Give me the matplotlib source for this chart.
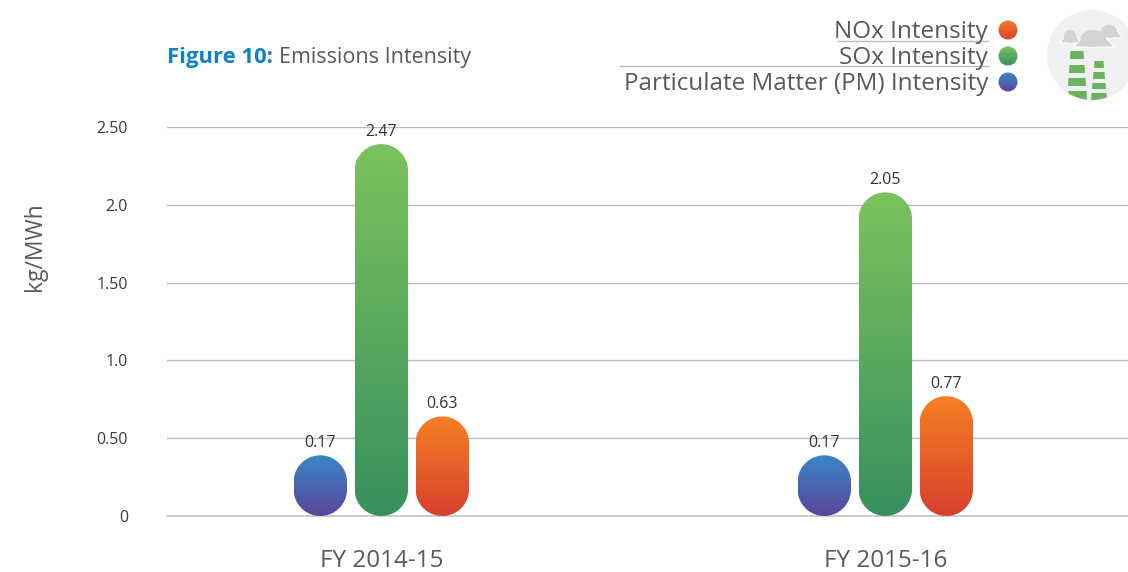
import numpy as np
import matplotlib
matplotlib.use('Agg')
import matplotlib.pyplot as plt
from matplotlib.colors import LinearSegmentedColormap
from matplotlib.patches import PathPatch, Circle, Polygon, Ellipse
from matplotlib.path import Path

# -------------------- Data --------------------
categories = ['FY 2014-15', 'FY 2015-16']
series_names = ['Particulate Matter (PM) Intensity', 'SOx Intensity', 'NOx Intensity']
# printed labels, and the heights the bars are really drawn at in the picture
labels_pm = ['0.17', '0.17']
labels_sox = ['2.47', '2.05']
labels_nox = ['0.63', '0.77']
heights_pm = [0.39, 0.39]
heights_sox = [2.39, 2.08]
heights_nox = [0.64, 0.77]
y_ticks = [0, 0.5, 1.0, 1.5, 2.0, 2.5]
y_tick_labels = ['0', '0.50', '1.0', '1.50', '2.0', '2.50']

grad_pm = ('#3A86C8', '#5B469A')
grad_sox = ('#7DC25D', '#37905F')
grad_nox = ('#F58024', '#D8402F')

# ---------------- Layout (pixels) ----------------
W, H = 1128, 572
left, right, top, bottom = 167, 1128, 127, 516
x_unit = 504.0
y_unit = (bottom - top) / 2.5
bar_w = 53.5 / x_unit
offset = 61 / x_unit

plt.rcParams['font.family'] = ['Open Sans', 'DejaVu Sans']
text_grey = '#58595B'

fig = plt.figure(figsize=(W / 100, H / 100), dpi=100, facecolor='white')

# overlay in pixel coordinates for title, legend and icon
over = fig.add_axes([0, 0, 1, 1])
over.set_xlim(0, W)
over.set_ylim(H, 0)
over.axis('off')

ax = fig.add_axes([left / W, 1 - bottom / H, (right - left) / W, (bottom - top) / H])
ax.patch.set_alpha(0)

for s in ['top', 'right', 'left']:
    ax.spines[s].set_visible(False)
ax.spines['bottom'].set_color('#CCCCCC')
ax.spines['bottom'].set_linewidth(1.4)
ax.set_yticks(y_ticks)
ax.set_yticklabels(y_tick_labels, fontsize=11.5, color='#3A3A3A')
ax.set_xticks(range(len(categories)))
ax.set_xticklabels(categories, fontsize=17.5, color=text_grey)
ax.tick_params(axis='y', length=0, pad=28)
ax.tick_params(axis='x', length=0, pad=24)
ax.yaxis.grid(True, color='#BBBBBB', linewidth=1)
ax.set_axisbelow(True)

over.text(35, 247, 'kg/MWh', rotation=90, fontsize=16.5, color=text_grey,
          ha='center', va='center')


def pill_path(x, h):
    # rounded both ends, radius in pixels turned back into data units
    rx = bar_w / 2
    ry = rx * x_unit / y_unit
    t = np.linspace(0, np.pi, 40)
    top_x = x + rx * np.cos(t)
    top_y = h - ry + ry * np.sin(t)
    bot_x = x - rx * np.cos(t)
    bot_y = ry - ry * np.sin(t)
    pts = np.column_stack([np.r_[top_x, bot_x], np.r_[top_y, bot_y]])
    return Path(np.vstack([pts, pts[0]]), closed=True)


def draw_pill(x, h, colors):
    patch = PathPatch(pill_path(x, h), fc='none', ec='none', zorder=3)
    ax.add_patch(patch)
    cmap = LinearSegmentedColormap.from_list('grad', colors)
    im = ax.imshow(np.linspace(0, 1, 256).reshape(-1, 1), cmap=cmap, aspect='auto',
                   extent=(x - bar_w / 2, x + bar_w / 2, 0, h), origin='upper', zorder=3)
    im.set_clip_path(patch)


groups = [(-offset, heights_pm, labels_pm, grad_pm),
          (0, heights_sox, labels_sox, grad_sox),
          (offset, heights_nox, labels_nox, grad_nox)]
for off, heights, labs, grad in groups:
    for i, (h, lab) in enumerate(zip(heights, labs)):
        draw_pill(i + off, h, grad)
        ax.annotate(lab, (i + off, h), xytext=(0, 3), textcoords='offset points',
                    ha='center', va='bottom', fontsize=11.5, color='#333333', zorder=4,
                    annotation_clip=False)
ax.set_xlim((left - 381.3) / x_unit, (right - 381.3) / x_unit)
ax.set_ylim(0, 2.5)

# -------------------- Title --------------------
over.text(167, 58, 'Figure 10:', fontsize=15.8, fontweight='bold', color='#0F82C5',
          ha='left', va='center')
over.text(279, 58, 'Emissions Intensity', fontsize=15.5, color=text_grey, ha='left', va='center')

# -------------------- Legend --------------------
legend_y = [30, 56, 82]
legend_names = series_names[::-1]
legend_grads = [grad_nox, grad_sox, grad_pm]
for y, name, grad in zip(legend_y, legend_names, legend_grads):
    over.text(988, y + 1.5, name, fontsize=17.5, color=text_grey, ha='right', va='center')
    c = Circle((1008, y), 9.5, fc='none', ec='none')
    over.add_patch(c)
    cmap = LinearSegmentedColormap.from_list('g', grad)
    im = over.imshow(np.linspace(0, 1, 64).reshape(-1, 1), cmap=cmap, aspect='auto',
                     extent=(998, 1018, y + 10, y - 10), origin='upper')
    im.set_clip_path(c)
over.plot([838, 988], [41, 41], color='#BBBBBB', lw=1)
over.plot([620, 988], [66, 66], color='#BBBBBB', lw=1)

# -------------------- Icon --------------------
disc = Circle((1092, 55), 45, fc='#EFF0F1', ec='none')
over.add_patch(disc)


def cloud(x0, x1, ytop, ybot):
    # dome over a flat base, white halo behind it
    wid = x1 - x0
    hgt = ybot - ytop
    base = Polygon([(x0, ybot), (x1, ybot), (x0 + 0.75 * wid, ybot - 0.6 * hgt),
                    (x0 + 0.25 * wid, ybot - 0.6 * hgt)], fc='#D1D3D4', ec='white', lw=0.8)
    dome = Ellipse((x0 + 0.48 * wid, ybot - 0.5 * hgt), 0.6 * wid, hgt, fc='#D1D3D4', ec='none')
    over.add_patch(base)
    over.add_patch(dome)


cloud(1060, 1081, 30, 43)
cloud(1096, 1123, 25, 38)
cloud(1073, 1115, 30, 47)

stacks = [(1070, 1084, 51, 59), (1069, 1085, 65, 73), (1068, 1086, 78, 86),
          (1068, 1087, 91, 100), (1094, 1104, 61, 68), (1093, 1105, 72, 79),
          (1092, 1106, 83, 89), (1091, 1107, 93, 100)]
for x0, x1, y0, y1 in stacks:
    p = Polygon([(x0 + 0.5, y0), (x1 - 0.5, y0), (x1, y1), (x0, y1)], fc='#6BB35E', ec='none')
    over.add_patch(p)
    p.set_clip_path(disc)
over.set_xlim(0, W)
over.set_ylim(H, 0)

fig.savefig('out.png', dpi=100)
